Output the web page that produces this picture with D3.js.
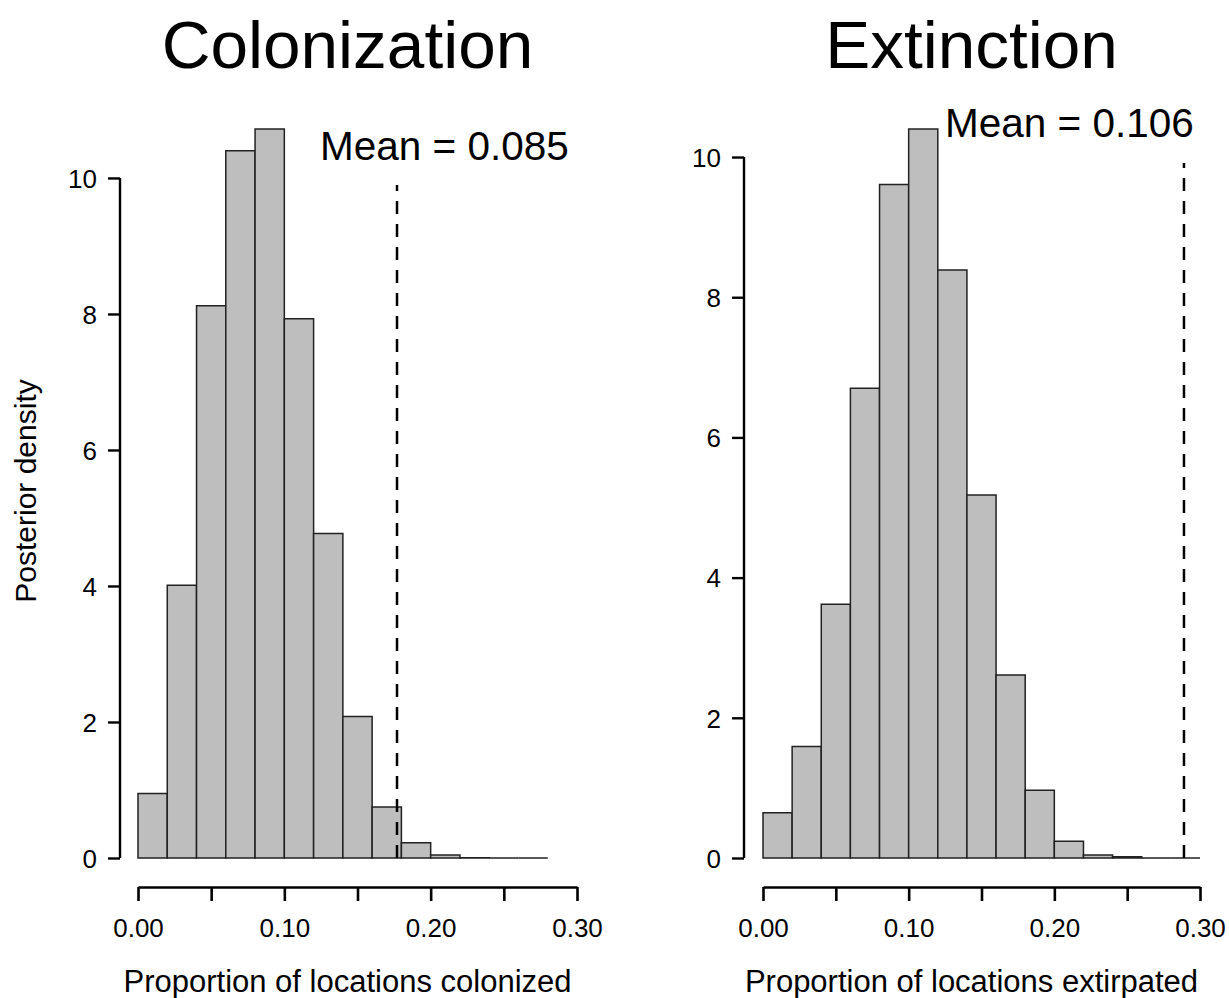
<!DOCTYPE html>
<html>
<head>
<meta charset="utf-8">
<script src="https://cdn.jsdelivr.net/npm/d3@7/dist/d3.min.js"></script>
<style>
  body { margin: 0; background: #fff; }
  text { font-family: "Liberation Sans", Arial, sans-serif; fill: #000; }
</style>
</head>
<body>
<div id="chart"></div>
<script>
"use strict";

// histogram bins (left edges, width 0.02) and densities
const colBreaks = [0.00, 0.02, 0.04, 0.06, 0.08, 0.10, 0.12, 0.14, 0.16, 0.18, 0.20, 0.22, 0.24, 0.26];
const colDensity = [0.95, 4.01, 8.12, 10.40, 10.72, 7.93, 4.77, 2.08, 0.75, 0.225, 0.044, 0.004, 0, 0];

const extBreaks = [0.00, 0.02, 0.04, 0.06, 0.08, 0.10, 0.12, 0.14, 0.16, 0.18, 0.20, 0.22, 0.24, 0.26, 0.28];
const extDensity = [0.645, 1.59, 3.62, 6.70, 9.61, 10.40, 8.39, 5.18, 2.61, 0.965, 0.24, 0.043, 0.018, 0, 0];

const xTicks = [0, 0.05, 0.10, 0.15, 0.20, 0.25, 0.30];
const xTickLabels = ["0.00", "", "0.10", "", "0.20", "", "0.30"];
const yTicks = [0, 2, 4, 6, 8, 10];

const colMean = 0.085, extMean = 0.106;
const colLine = 0.177, extLine = 0.289;   // where the dashed lines sit

const W = 1229, H = 998;
const svg = d3.select("#chart").append("svg")
    .attr("width", W)
    .attr("height", H);

// one panel: histogram, axes, dashed line, labels
function drawPanel(opt) {
    let x = d3.scaleLinear().domain([0, 0.30]).range([opt.x0, opt.x1]);
    let y = d3.scaleLinear().domain([0, d3.max(opt.density)]).range([858, 129]);
    let g = svg.append("g");
    let bw = 0.02;

    // bars as closed paths so empty bins still show as a line on the baseline
    g.selectAll(".bar")
        .data(opt.density)
        .enter()
        .append("path")
        .attr("class", "bar")
        .attr("d", (d, i) => {
            let l = x(opt.breaks[i]), r = x(opt.breaks[i] + bw);
            return "M" + l + "," + y(0) + "V" + y(d) + "H" + r + "V" + y(0) + "Z";
        })
        .attr("fill", "#bebebe")
        .attr("stroke", "#222")
        .attr("stroke-width", 1.5);

    // dashed line
    g.append("line")
        .attr("x1", x(opt.line)).attr("x2", x(opt.line))
        .attr("y1", y(0)).attr("y2", opt.lineTop)
        .attr("stroke", "#000")
        .attr("stroke-width", 2.5)
        .attr("stroke-dasharray", "13,10");

    // y axis, line only from 0 to 10 like R
    let yAxis = d3.axisLeft(y).tickValues(yTicks).tickSize(12).tickPadding(11).tickSizeOuter(0);
    let ya = g.append("g")
        .attr("transform", "translate(" + opt.yAxisX + ",0)")
        .call(yAxis);
    ya.select(".domain").attr("d", "M0," + y(0) + "V" + y(10));
    ya.selectAll("line, path").attr("stroke", "#000").attr("stroke-width", 2.4);
    ya.selectAll("text").style("font-size", "26px").attr("dy", "0.36em");

    // x axis
    let xAxis = d3.axisBottom(x).tickValues(xTicks).tickSize(14).tickPadding(18)
        .tickFormat((d, i) => xTickLabels[i]).tickSizeOuter(0);
    let xa = g.append("g")
        .attr("transform", "translate(0,887)")
        .call(xAxis);
    xa.selectAll("line, path").attr("stroke", "#000").attr("stroke-width", 2.6);
    xa.selectAll("text").style("font-size", "26px");

    let cx = (opt.x0 + opt.x1) / 2 - 10;
    g.append("text")
        .attr("x", cx)
        .attr("y", 68)
        .attr("text-anchor", "middle")
        .style("font-size", "67.5px")
        .text(opt.title);

    g.append("text")
        .attr("x", opt.meanX)
        .attr("y", opt.meanY)
        .style("font-size", "40.5px")
        .text("Mean = " + opt.mean.toFixed(3));

    g.append("text")
        .attr("x", cx)
        .attr("y", 992)
        .attr("text-anchor", "middle")
        .style("font-size", "31px")
        .text(opt.xLabel);
}

drawPanel({
    breaks: colBreaks, density: colDensity, x0: 138, x1: 577, yAxisX: 120,
    line: colLine, lineTop: 185, mean: colMean, meanX: 320, meanY: 160,
    title: "Colonization", xLabel: "Proportion of locations colonized"
});

drawPanel({
    breaks: extBreaks, density: extDensity, x0: 763, x1: 1200, yAxisX: 744,
    line: extLine, lineTop: 163, mean: extMean, meanX: 945, meanY: 137,
    title: "Extinction", xLabel: "Proportion of locations extirpated"
});

svg.append("text")
    .attr("transform", "translate(36,491) rotate(-90)")
    .attr("text-anchor", "middle")
    .style("font-size", "30px")
    .text("Posterior density");
</script>
</body>
</html>
